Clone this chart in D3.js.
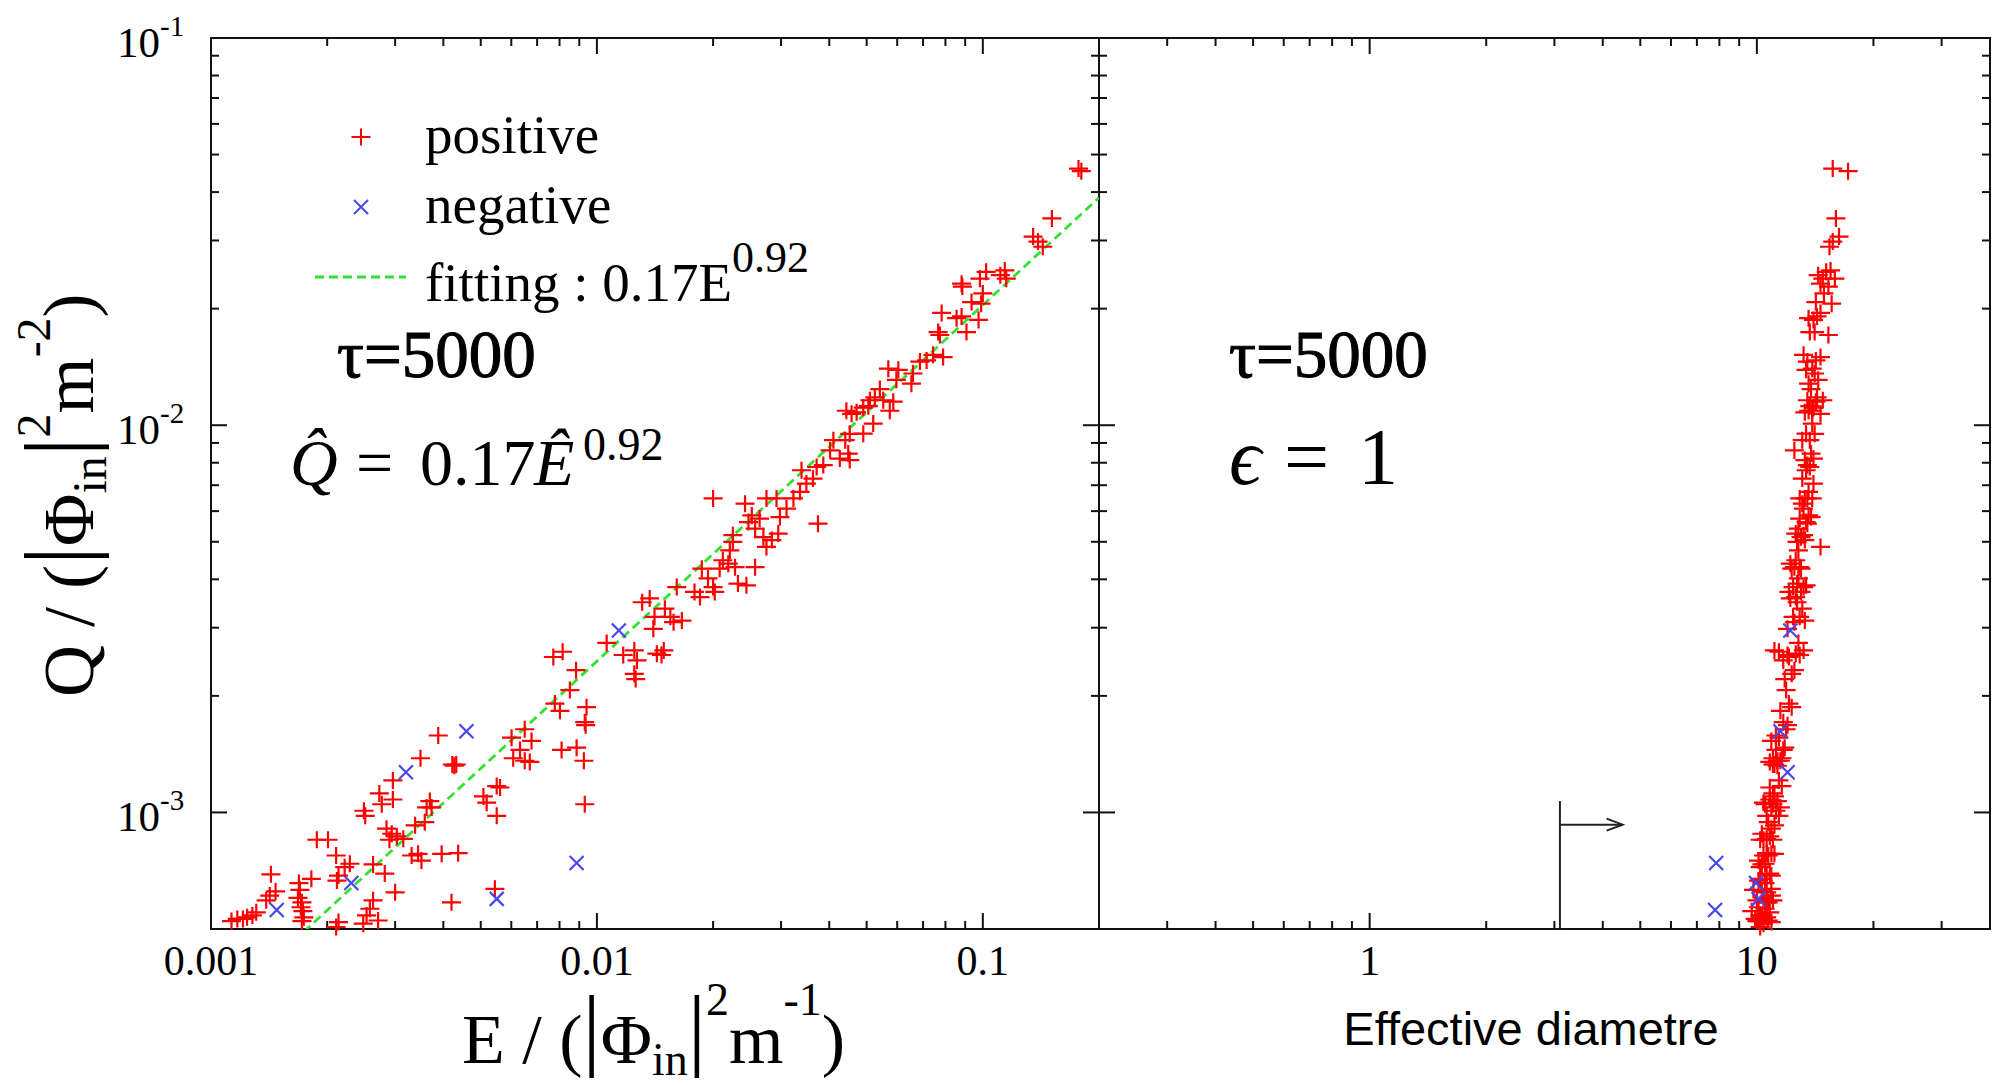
<!DOCTYPE html>
<html>
<head>
<meta charset="utf-8">
<script src="https://cdn.jsdelivr.net/npm/d3@7"></script>
<style>
  body { margin: 0; background: #fff; }
  svg { display: block; }
  text { font-family: "Liberation Serif", "Times New Roman", serif; fill: #000; }
</style>
</head>
<body>
<svg id="chart" width="2003" height="1085"></svg>
<script>
// --- positive events: E, Q and effective diameter (same events in both panels) ---
const posE = [
  0.00113, 0.00117, 0.00121, 0.00124, 0.00128, 0.00131, 0.00143, 0.00147, 0.00142, 0.00139,
  0.00169, 0.00170, 0.00168, 0.00172, 0.00171, 0.00173, 0.00174, 0.00172, 0.00182, 0.00188,
  0.00201, 0.00211, 0.00214, 0.00212, 0.00229, 0.00222, 0.00249, 0.00251, 0.00273, 0.00277,
  0.00296, 0.00296, 0.00349, 0.00388, 0.00422, 0.00427, 0.00432, 0.00285, 0.00294, 0.00303,
  0.00315, 0.00290, 0.00338, 0.00358, 0.00369, 0.00373, 0.00362, 0.00331, 0.00344, 0.00351,
  0.00396, 0.00437, 0.00263, 0.00282, 0.00300, 0.00263, 0.00258, 0.00253, 0.00271, 0.00248,
  0.00214, 0.00211, 0.00420, 0.00544, 0.00508, 0.00518, 0.00550, 0.00561, 0.00550, 0.00601,
  0.00650, 0.00677, 0.00632, 0.00607, 0.00650, 0.00670, 0.00778, 0.00802, 0.00940, 0.00930,
  0.00935, 0.00810, 0.00886, 0.00925, 0.00930, 0.00771, 0.00815, 0.00883, 0.00851, 0.0106,
  0.0117, 0.0125, 0.0127, 0.0125, 0.0126, 0.0143, 0.0149, 0.0147, 0.0131, 0.0137,
  0.0141, 0.0150, 0.0155, 0.0158, 0.0166, 0.0161, 0.0140, 0.0179, 0.0185, 0.0187,
  0.0194, 0.0200, 0.0202, 0.0208, 0.0212, 0.0219, 0.0221, 0.0228, 0.0232, 0.0244,
  0.0257, 0.0225, 0.0225, 0.0200, 0.0242, 0.0252, 0.0264, 0.0275, 0.0292, 0.0247,
  0.0257, 0.0270, 0.0275, 0.0284, 0.0295, 0.0298, 0.0310, 0.0323, 0.0336, 0.0339,
  0.0349, 0.0363, 0.0371, 0.0374, 0.177, 0.180, 0.151, 0.135, 0.139, 0.143,
  0.0881, 0.0885, 0.0983, 0.102, 0.111, 0.114, 0.115, 0.100, 0.0935, 0.0990,
  0.0975, 0.0782, 0.0855, 0.0881, 0.0907, 0.0766, 0.0774, 0.0687, 0.0715, 0.0743,
  0.0789, 0.0569, 0.0604, 0.0659, 0.0653, 0.0597, 0.0541, 0.0525, 0.0510, 0.0443,
  0.0457, 0.0471, 0.0490, 0.0505, 0.0586, 0.0574, 0.0552, 0.0520, 0.0490, 0.0452,
  0.0440, 0.0410, 0.0402, 0.0448, 0.0452, 0.0426, 0.0386
];
const posQ = [
  5.24e-4, 5.31e-4, 5.31e-4, 5.36e-4, 5.42e-4, 5.52e-4, 6.92e-4, 6.25e-4, 6.10e-4, 5.93e-4,
  6.57e-4, 6.31e-4, 6.02e-4, 5.86e-4, 5.69e-4, 5.56e-4, 5.36e-4, 5.24e-4, 6.74e-4, 8.50e-4,
  8.50e-4, 7.74e-4, 6.87e-4, 6.67e-4, 7.37e-4, 7.22e-4, 1.01e-3, 9.80e-4, 1.12e-3, 1.05e-3,
  1.21e-3, 1.08e-3, 1.38e-3, 1.58e-3, 1.33e-3, 1.32e-3, 1.33e-3, 9.08e-4, 8.81e-4, 8.67e-4,
  8.55e-4, 8.50e-4, 9.26e-4, 9.44e-4, 1.07e-3, 1.03e-3, 1.03e-3, 7.74e-4, 7.82e-4, 7.51e-4,
  7.82e-4, 7.85e-4, 7.34e-4, 6.95e-4, 6.22e-4, 5.93e-4, 5.64e-4, 5.42e-4, 5.26e-4, 5.16e-4,
  5.21e-4, 5.06e-4, 5.86e-4, 6.35e-4, 1.10e-3, 1.06e-3, 1.17e-3, 1.16e-3, 9.80e-4, 1.56e-3,
  1.64e-3, 1.53e-3, 1.45e-3, 1.38e-3, 1.36e-3, 1.35e-3, 1.91e-3, 1.83e-3, 1.87e-3, 1.71e-3,
  1.68e-3, 1.45e-3, 1.47e-3, 1.36e-3, 1.05e-3, 2.52e-3, 2.60e-3, 2.33e-3, 2.07e-3, 2.74e-3,
  2.55e-3, 2.62e-3, 2.47e-3, 2.28e-3, 2.21e-3, 2.57e-3, 2.62e-3, 2.55e-3, 3.49e-3, 3.57e-3,
  3.20e-3, 3.36e-3, 3.20e-3, 3.10e-3, 3.13e-3, 3.82e-3, 2.98e-3, 3.71e-3, 3.60e-3, 4.26e-3,
  4.02e-3, 3.82e-3, 3.71e-3, 4.26e-3, 4.48e-3, 4.39e-3, 4.75e-3, 4.30e-3, 3.90e-3, 3.86e-3,
  4.30e-3, 5.20e-3, 5.00e-3, 6.47e-3, 6.27e-3, 5.85e-3, 5.74e-3, 6.47e-3, 6.47e-3, 5.62e-3,
  5.41e-3, 5.14e-3, 4.85e-3, 5.05e-3, 5.25e-3, 5.79e-3, 6.09e-3, 6.47e-3, 6.73e-3, 7.65e-3,
  7.07e-3, 7.28e-3, 7.80e-3, 5.57e-3, 0.0460, 0.0453, 0.0342, 0.0307, 0.0298, 0.0289,
  0.0232, 0.0228, 0.0239, 0.0249, 0.0244, 0.0251, 0.0239, 0.0219, 0.0208, 0.0206,
  0.0187, 0.0195, 0.0189, 0.0191, 0.0174, 0.0174, 0.0171, 0.0146, 0.0147, 0.0152,
  0.0150, 0.0140, 0.0139, 0.0136, 0.0128, 0.0131, 0.0124, 0.0118, 0.0116, 0.0109,
  0.0107, 0.0108, 0.0111, 0.0112, 0.0115, 0.0109, 0.0116, 0.0101, 0.00951, 0.00950,
  0.00915, 0.00915, 0.00861, 0.00845, 0.00813, 0.00820, 0.00789
];
const posD = [
  10.1, 10.4, 9.9, 10.6, 10.2, 10.8, 10.6, 10.3, 10.9, 10.0,
  10.5, 9.8, 10.4, 10.7, 10.1, 9.7, 10.3, 10.0, 10.2, 10.4,
  11.0, 10.7, 10.9, 10.1, 10.5, 10.2, 11.2, 10.6, 11.0, 10.5,
  11.4, 10.8, 11.6, 11.2, 11.0, 11.3, 11.1, 10.9, 10.3, 10.8,
  10.6, 10.2, 11.1, 10.7, 11.3, 10.9, 11.5, 10.4, 10.9, 10.1,
  11.1, 10.6, 10.3, 10.8, 10.6, 11.0, 10.5, 10.2, 10.7, 10.4,
  10.9, 10.2, 10.6, 10.9, 11.1, 10.4, 11.6, 10.8, 11.4, 11.4,
  11.9, 10.9, 11.7, 11.0, 11.5, 10.8, 12.1, 11.5, 12.3, 11.7,
  12.0, 11.2, 11.8, 11.3, 11.0, 12.1, 11.4, 12.5, 11.9, 12.8,
  12.0, 13.2, 11.7, 12.3, 11.8, 12.6, 11.1, 12.9, 12.7, 12.2,
  12.4, 13.1, 12.9, 12.5, 13.3, 12.4, 12.0, 13.0, 12.6, 12.3,
  12.8, 13.2, 12.1, 13.0, 12.6, 12.2, 12.8, 12.5, 12.7, 13.4,
  12.9, 13.2, 12.7, 13.5, 13.1, 13.6, 12.9, 13.9, 13.3, 13.4,
  12.8, 13.0, 14.6, 13.3, 12.6, 13.8, 13.2, 12.9, 13.6, 13.4,
  14.0, 13.1, 13.7, 13.5, 15.7, 17.2, 16.0, 16.3, 15.7, 15.4,
  14.6, 15.3, 15.9, 15.1, 14.4, 15.5, 14.8, 14.9, 14.2, 15.6,
  14.0, 14.6, 13.6, 14.3, 14.1, 13.7, 15.3, 13.5, 14.2, 13.2,
  14.6, 13.9, 13.4, 14.1, 13.6, 14.4, 13.8, 14.3, 13.5, 13.9,
  14.6, 13.3, 14.0, 13.7, 14.2, 13.6, 14.8, 13.9, 13.4, 14.1,
  13.7, 13.1, 12.5, 13.8, 13.3, 14.0, 13.5
];

// --- negative events ---
const negE = [0.00148, 0.00231, 0.00320, 0.00459, 0.00550, 0.00886, 0.0114];
const negQ = [5.60e-4, 6.57e-4, 1.27e-3, 1.62e-3, 5.98e-4, 7.40e-4, 2.95e-3];
const negD = [7.8, 9.95, 12.0, 11.5, 10.1, 7.85, 12.2];

// --- fit Q = a * E^b ---
const fitA = 0.17, fitB = 0.92;

// --- axis labels / annotation ---
const eLabels = [[0.001, "0.001"], [0.01, "0.01"], [0.1, "0.1"]];
const dLabels = [[1, "1"], [10, "10"]];
const qLabels = [[0.1, "-1"], [0.01, "-2"], [0.001, "-3"]];
const threshD = 3.1, arrowD = 4.5, arrowQ = 9.3e-4, threshTopQ = 1.07e-3;

const svg = d3.select("#chart");
const plotTop = 38, plotBottom = 929;
const leftX0 = 211, midX = 1099, rightX1 = 1990;

const xE = d3.scaleLog().domain([0.001, 0.2]).range([leftX0, midX]);
const xD = d3.scaleLog().domain([0.2, 40]).range([midX, rightX1]);
const yQ = d3.scaleLog().domain([5e-4, 0.1]).range([plotBottom, plotTop]);

const axisColor = "#111";

// minor/major tick helper
function logTicks(lo, hi) {
    const out = [];
    for (let e = Math.floor(Math.log10(lo)); e <= Math.ceil(Math.log10(hi)); e++) {
        for (let m = 1; m <= 9; m++) {
            const v = m * Math.pow(10, e);
            if (v > lo * 1.0001 && v < hi * 0.9999) out.push({ v, major: m === 1 });
        }
    }
    return out;
}

const gAxes = svg.append("g").attr("stroke", axisColor).attr("stroke-width", 2).attr("fill", "none");

// frames
gAxes.append("rect").attr("x", leftX0).attr("y", plotTop).attr("width", midX - leftX0).attr("height", plotBottom - plotTop);
gAxes.append("rect").attr("x", midX).attr("y", plotTop).attr("width", rightX1 - midX).attr("height", plotBottom - plotTop);

// x ticks (bottom and top, inward)
[xE, xD].forEach(sc => {
    const [lo, hi] = sc.domain();
    logTicks(lo, hi).forEach(t => {
        const len = t.major ? 16 : 8, x = sc(t.v);
        gAxes.append("line").attr("x1", x).attr("x2", x).attr("y1", plotBottom).attr("y2", plotBottom - len);
        gAxes.append("line").attr("x1", x).attr("x2", x).attr("y1", plotTop).attr("y2", plotTop + len);
    });
});

// y ticks: only from 10^-3 upward carry minor ticks
logTicks(1e-3 * 0.999, 0.1).filter(t => t.v >= 0.00099).forEach(t => {
    const len = t.major ? 16 : 8, y = yQ(t.v);
    gAxes.append("line").attr("x1", leftX0).attr("x2", leftX0 + len).attr("y1", y).attr("y2", y);
    gAxes.append("line").attr("x1", midX - len).attr("x2", midX + len).attr("y1", y).attr("y2", y);
    gAxes.append("line").attr("x1", rightX1 - len).attr("x2", rightX1).attr("y1", y).attr("y2", y);
});

// tick labels
const tickFont = 42;
eLabels.forEach(([v, s]) => svg.append("text").attr("x", xE(v)).attr("y", 975)
    .attr("text-anchor", "middle").attr("font-size", tickFont).text(s));
dLabels.forEach(([v, s]) => svg.append("text").attr("x", xD(v)).attr("y", 975)
    .attr("text-anchor", "middle").attr("font-size", tickFont).text(s));
qLabels.forEach(([v, s]) => {
    const t = svg.append("text").attr("x", 117).attr("y", yQ(v) + 19).attr("font-size", 43);
    t.append("tspan").text("10");
    t.append("tspan").attr("font-size", 29).attr("dy", -21).text(s);
});

// fit line, clipped to left panel
svg.append("clipPath").attr("id", "clipL").append("rect")
    .attr("x", leftX0).attr("y", plotTop).attr("width", midX - leftX0).attr("height", plotBottom - plotTop);
const fitLine = d3.line().x(d => xE(d)).y(d => yQ(fitA * Math.pow(d, fitB)));
svg.append("path").datum(xE.domain()).attr("d", fitLine).attr("clip-path", "url(#clipL)")
    .attr("fill", "none").attr("stroke", "#33e033").attr("stroke-width", 2.8).attr("stroke-dasharray", "9 5");

// markers
const plusPath = "M-9.5,0H9.5M0,-8.5V8.5";
const crossPath = "M-7,-7L7,7M-7,7L7,-7";
const red = "#ff0000", blue = "#4646f2";

function drawMarks(xs, ys, sx, path, color) {
    svg.append("g").selectAll("path").data(d3.range(xs.length)).join("path")
        .attr("d", path).attr("transform", i => `translate(${sx(xs[i])},${yQ(ys[i])})`)
        .attr("fill", "none").attr("stroke", color).attr("stroke-width", 2.2);
}
drawMarks(posE, posQ, xE, plusPath, red);
drawMarks(negE, negQ, xE, crossPath, blue);
drawMarks(posD, posQ, xD, plusPath, red);
drawMarks(negD, negQ, xD, crossPath, blue);

// legend
svg.append("path").attr("d", plusPath).attr("transform", "translate(361,137)").attr("fill", "none").attr("stroke", red).attr("stroke-width", 2);
svg.append("path").attr("d", crossPath).attr("transform", "translate(361,207)").attr("fill", "none").attr("stroke", blue).attr("stroke-width", 2);
svg.append("line").attr("x1", 315).attr("x2", 406).attr("y1", 277).attr("y2", 277)
    .attr("stroke", "#33e033").attr("stroke-width", 2.8).attr("stroke-dasharray", "9 5");
svg.append("text").attr("x", 425).attr("y", 153).attr("font-size", 55).text("positive");
svg.append("text").attr("x", 425).attr("y", 223).attr("font-size", 55).text("negative");
const fitTxt = svg.append("text").attr("x", 425).attr("y", 301).attr("font-size", 55);
fitTxt.append("tspan").text("fitting : 0.17E");
fitTxt.append("tspan").attr("font-size", 44).attr("dy", -29).text("0.92");

// tau labels (heavier, as in the figure)
[337, 1229].forEach(x => svg.append("text").attr("x", x).attr("y", 377).attr("font-size", 67)
    .attr("stroke", "#000").attr("stroke-width", 1.1).text("τ=5000"));

// equation Q^ = 0.17 E^0.92
svg.append("text").attr("x", 290).attr("y", 485).attr("font-size", 66).attr("font-style", "italic").text("Q\u0302");
svg.append("text").attr("x", 356).attr("y", 485).attr("font-size", 66).attr("textLength", 44).text("=");
svg.append("text").attr("x", 420).attr("y", 485).attr("font-size", 66).text("0.17");
svg.append("text").attr("x", 534).attr("y", 485).attr("font-size", 66).attr("font-style", "italic").text("E\u0302");
svg.append("text").attr("x", 583).attr("y", 460).attr("font-size", 46).text("0.92");

// epsilon = 1
svg.append("text").attr("x", 1229).attr("y", 484).attr("font-size", 80).attr("font-style", "italic").text("\u03F5");
svg.append("text").attr("x", 1284).attr("y", 484).attr("font-size", 80).text("=");
svg.append("text").attr("x", 1358).attr("y", 484).attr("font-size", 80).text("1");

// threshold marker with arrow
const gArr = svg.append("g").attr("stroke", "#222").attr("stroke-width", 2).attr("fill", "none");
gArr.append("line").attr("x1", xD(threshD)).attr("x2", xD(threshD)).attr("y1", yQ(threshTopQ)).attr("y2", plotBottom);
const ay = yQ(arrowQ), ax = xD(arrowD);
gArr.append("line").attr("x1", xD(threshD)).attr("x2", ax).attr("y1", ay).attr("y2", ay);
gArr.append("path").attr("d", `M${ax - 16},${ay - 6}L${ax},${ay}L${ax - 16},${ay + 6}`);

// axis titles
function physLabel(g, lead, exp, fs, sub, up) {
    const sf = Math.round(fs * 0.66), bf = Math.round(fs * 1.3);
    const t = g.append("text").attr("font-size", fs);
    t.append("tspan").text(lead + " / (");
    t.append("tspan").attr("font-size", bf).attr("dy", -4).text("|");
    t.append("tspan").attr("dy", 4).text("Φ");
    t.append("tspan").attr("font-size", sf).attr("dy", sub).text("in");
    t.append("tspan").attr("font-size", bf).attr("dy", -sub - 4).text("|");
    t.append("tspan").attr("font-size", sf).attr("dy", -up + 4).text("2");
    t.append("tspan").attr("dy", up).text("m");
    t.append("tspan").attr("font-size", sf).attr("dy", -up).text(exp);
    t.append("tspan").attr("dy", up).text(")");
    return t;
}
physLabel(svg.append("g").attr("transform", "translate(462,1063)"), "E", "-1", 70, 12, 48);
physLabel(svg.append("g").attr("transform", "translate(93,697) rotate(-90)"), "Q", "-2", 72, 13, 43);

svg.append("text").attr("x", 1531).attr("y", 1045).attr("text-anchor", "middle")
    .style("font-family", "'Liberation Sans', Arial, sans-serif").attr("font-size", 47).text("Effective diametre");
</script>
</body>
</html>
